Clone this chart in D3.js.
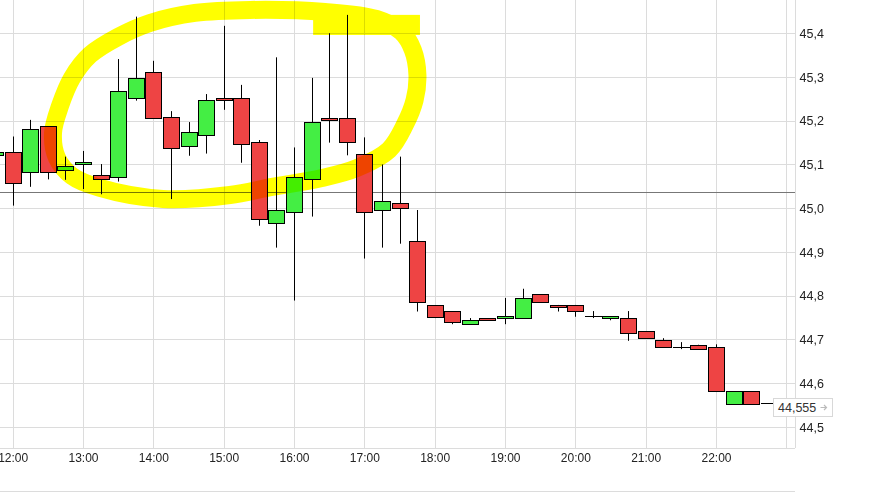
<!DOCTYPE html>
<html>
<head>
<meta charset="utf-8">
<script src="https://cdn.jsdelivr.net/npm/d3@7"></script>
<style>
  html, body { margin: 0; padding: 0; background: #fff; }
  svg { display: block; font-family: "Liberation Sans", Arial, sans-serif; }
  .hl { mix-blend-mode: multiply; }
</style>
</head>
<body>
<svg id="chart" width="883" height="495"></svg>
<script>
// ---- data (15-minute candles) ----
const times  = ["11:45","12:00","12:15","12:30","12:45","13:00","13:15","13:30","13:45","14:00","14:15","14:30","14:45","15:00","15:15","15:30","15:45","16:00","16:15","16:30","16:45","17:00","17:15","17:30","17:45","18:00","18:15","18:30","18:45","19:00","19:15","19:30","19:45","20:00","20:15","20:30","20:45","21:00","21:15","21:30","21:45","22:00","22:15","22:30","22:45"];
const opens  = [45.122,45.129,45.082,45.187,45.087,45.101,45.075,45.071,45.251,45.312,45.209,45.142,45.167,45.251,45.251,45.151,44.966,44.991,45.066,45.206,45.206,45.125,44.995,45.011,44.925,44.778,44.765,44.735,44.749,44.749,44.749,44.803,44.779,44.779,44.753,44.749,44.749,44.719,44.698,44.682,44.688,44.682,44.552,44.582,44.555];
const highs  = [45.135,45.164,45.202,45.187,45.118,45.131,45.101,45.341,45.438,45.337,45.222,45.197,45.261,45.417,45.282,45.156,45.345,45.139,45.298,45.400,45.442,45.162,45.100,45.118,44.996,44.778,44.765,44.749,44.749,44.795,44.816,44.803,44.779,44.779,44.765,44.753,44.765,44.719,44.703,44.694,44.688,44.689,44.582,44.582,44.555];
const lows   = [45.115,45.006,45.049,45.066,45.065,45.044,45.032,45.061,45.246,45.206,45.021,45.120,45.125,45.225,45.104,44.960,44.910,44.789,44.981,45.150,45.121,44.885,44.910,44.919,44.764,44.749,44.735,44.735,44.744,44.735,44.749,44.785,44.764,44.752,44.749,44.744,44.697,44.703,44.682,44.678,44.678,44.582,44.552,44.552,44.555];
const closes = [45.129,45.057,45.181,45.082,45.096,45.105,45.066,45.267,45.297,45.206,45.137,45.175,45.247,45.247,45.146,44.975,44.995,45.071,45.197,45.202,45.151,44.991,45.016,45.000,44.785,44.752,44.739,44.744,44.744,44.753,44.794,44.785,44.774,44.765,44.753,44.753,44.714,44.703,44.682,44.682,44.678,44.582,44.582,44.552,44.555];
const yTicks = [44.5,44.6,44.7,44.8,44.9,45.0,45.1,45.2,45.3,45.4];
const xTickLabels = ["12:00","13:00","14:00","15:00","16:00","17:00","18:00","19:00","20:00","21:00","22:00"];
const xGridHours = ["12:00","13:00","14:00","15:00","16:00","17:00","18:00","19:00","20:00","21:00","22:00","23:00"];
const prevClose = 45.0366;
const lastPrice = 44.555;
// hand-drawn highlight (hour, price)
const hlHours  = [15.374,14.592,13.952,13.497,13.099,12.843,12.673,12.573,12.630,12.843,13.241,14.137,15.090,15.687,16.398,16.896,17.350,17.575,17.715,17.755,17.690,17.530,17.170,16.440];
const hlPrices = [45.4533,45.4464,45.4235,45.3915,45.3504,45.2978,45.2338,45.1721,45.1150,45.0738,45.0464,45.0213,45.0304,45.0487,45.0693,45.0921,45.1333,45.1904,45.2475,45.3047,45.3618,45.4030,45.4327,45.4487];

const parse = d3.timeParse("%H:%M");
const svg = d3.select("#chart");
const plotRight = 795, plotBottom = 448;

const x = d3.scaleTime().domain([parse("12:00"), parse("23:00")]).range([12.7, 786.3]);
const y = d3.scaleLinear().domain([44.452, 45.476]).range([plotBottom, 0]);
const hourToDate = h => { const d = parse("00:00"); d.setTime(d.getTime() + h * 3600000); return d; };

const grid = "#dcdcdc";
const crisp = v => Math.round(v) + 0.5;

// gridlines
svg.append("g").selectAll("line").data(yTicks).join("line")
  .attr("x1", 0).attr("x2", plotRight)
  .attr("y1", d => crisp(y(d))).attr("y2", d => crisp(y(d)))
  .attr("stroke", grid).attr("stroke-width", 1);
svg.append("g").selectAll("line").data(xGridHours).join("line")
  .attr("x1", d => crisp(x(parse(d)))).attr("x2", d => crisp(x(parse(d))))
  .attr("y1", 0).attr("y2", plotBottom)
  .attr("stroke", grid).attr("stroke-width", 1);

// frame lines
svg.append("line").attr("x1", 0).attr("x2", plotRight).attr("y1", plotBottom + 0.5).attr("y2", plotBottom + 0.5).attr("stroke", grid);
svg.append("line").attr("x1", 0).attr("x2", plotRight).attr("y1", 491.5).attr("y2", 491.5).attr("stroke", grid);

// previous close line
svg.append("line").attr("x1", 0).attr("x2", plotRight)
  .attr("y1", crisp(y(prevClose))).attr("y2", crisp(y(prevClose)))
  .attr("stroke", "#777").attr("stroke-width", 1);

// axes
const yAxis = d3.axisRight(y).tickValues(yTicks).tickSize(0).tickSizeOuter(0).tickPadding(4)
  .tickFormat(d => d.toFixed(1).replace(".", ","));
const gy = svg.append("g").attr("transform", `translate(${plotRight + 0.5},0)`).call(yAxis);
gy.select(".domain").attr("stroke", grid).attr("d", `M0,0V${plotBottom}`);
gy.selectAll("text").attr("font-size", "12.5px").attr("fill", "#222").attr("font-family", "Liberation Sans, Arial, sans-serif");

const xAxis = d3.axisBottom(x).tickValues(xTickLabels.map(parse)).tickSize(0).tickPadding(5)
  .tickFormat(d3.timeFormat("%H:%M"));
const gx = svg.append("g").attr("transform", `translate(0,${plotBottom})`).call(xAxis);
gx.select(".domain").remove();
gx.selectAll("text").attr("font-size", "12px").attr("fill", "#222").attr("font-family", "Liberation Sans, Arial, sans-serif");

// candles
const candles = times.map((t, i) => ({ t: parse(t), o: opens[i], h: highs[i], l: lows[i], c: closes[i] }));
const bodyW = 16;
const bTop = d => Math.round(y(Math.max(d.o, d.c)));
const bBot = d => Math.round(y(Math.min(d.o, d.c)));
const g = svg.append("g");
g.selectAll("line.wick").data(candles).join("line").attr("class", "wick")
  .attr("x1", d => crisp(x(d.t))).attr("x2", d => crisp(x(d.t)))
  .attr("y1", d => y(d.h)).attr("y2", d => y(d.l))
  .attr("stroke", "#000").attr("stroke-width", 1);
g.selectAll("rect.body").data(candles.filter(d => bBot(d) > bTop(d))).join("rect").attr("class", "body")
  .attr("x", d => Math.round(x(d.t)) - bodyW / 2 + 0.5)
  .attr("width", bodyW)
  .attr("y", d => bTop(d) + 0.5)
  .attr("height", d => bBot(d) - bTop(d))
  .attr("fill", d => d.c >= d.o ? "#44ee44" : "#ee4444")
  .attr("stroke", "#000").attr("stroke-width", 1);
g.selectAll("line.doji").data(candles.filter(d => bBot(d) <= bTop(d))).join("line").attr("class", "doji")
  .attr("x1", d => Math.round(x(d.t)) - bodyW / 2).attr("x2", d => Math.round(x(d.t)) + bodyW / 2 + 1)
  .attr("y1", d => bTop(d) + 0.5).attr("y2", d => bTop(d) + 0.5)
  .attr("stroke", "#000").attr("stroke-width", 1);

// highlighter annotation
const hlPts = hlHours.map((h, i) => [x(hourToDate(h)), y(hlPrices[i])]);
svg.append("path").attr("class", "hl")
  .attr("d", d3.line().curve(d3.curveCatmullRomClosed)(hlPts))
  .attr("fill", "none").attr("stroke", "#ffff00").attr("stroke-width", 18)
  .attr("stroke-linejoin", "round");
svg.append("rect").attr("class", "hl")
  .attr("x", x(hourToDate(16.272))).attr("width", x(hourToDate(17.791)) - x(hourToDate(16.272)))
  .attr("y", y(45.442)).attr("height", y(45.3961) - y(45.442))
  .attr("fill", "#ffff00");

// last price label
const ly = y(lastPrice);
const lbl = svg.append("g").attr("transform", `translate(773.5,${Math.round(ly) - 4.5})`);
lbl.append("rect").attr("x", 0).attr("y", 0).attr("width", 59).attr("height", 18)
  .attr("fill", "#fff").attr("stroke", "#d8d8d8");
lbl.append("text").attr("x", 4.5).attr("y", 13.5).attr("font-size", "12.5px").attr("fill", "#333")
  .text(lastPrice.toFixed(3).replace(".", ","));
lbl.append("path").attr("d", "M47,9H53M50.5,6.5L53,9L50.5,11.5").attr("fill", "none")
  .attr("stroke", "#bbb").attr("stroke-width", 1.2);
</script>
</body>
</html>
